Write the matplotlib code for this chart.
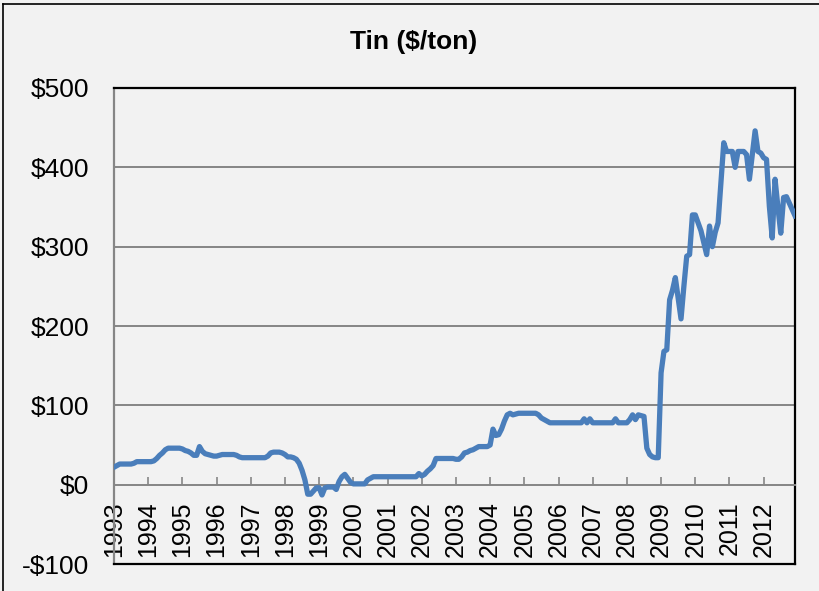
import matplotlib
matplotlib.use("Agg")
import matplotlib.pyplot as plt
from matplotlib.lines import Line2D
import numpy as np

plt.rcParams['font.family'] = ['Liberation Sans', 'DejaVu Sans']

# monthly tin price, Jan 1993 .. Dec 2012
prices = {
    1993: [22, 24, 26, 26, 26, 26, 26, 27, 29, 29, 29, 29],
    1994: [29, 29, 30, 33, 37, 40, 44, 46, 46, 46, 46, 46],
    1995: [45, 43, 42, 40, 37, 37, 48, 42, 39, 38, 37, 36],
    1996: [36, 37, 38, 38, 38, 38, 38, 37, 35, 34, 34, 34],
    1997: [34, 34, 34, 34, 34, 34, 36, 40, 41, 41, 41, 40],
    1998: [38, 35, 35, 34, 32, 27, 18, 6, -12, -12, -8, -4],
    1999: [-4, -13, -4, -3, -3, -3, -6, 4, 10, 13, 8, 3],
    2000: [1, 1, 1, 1, 1, 6, 8, 10, 10, 10, 10, 10],
    2001: [10, 10, 10, 10, 10, 10, 10, 10, 10, 10, 10, 14],
    2002: [11, 13, 17, 20, 24, 33, 33, 33, 33, 33, 33, 33],
    2003: [32, 32, 35, 40, 41, 43, 44, 46, 48, 48, 48, 48],
    2004: [50, 70, 62, 63, 70, 80, 88, 90, 88, 89, 90, 90],
    2005: [90, 90, 90, 90, 90, 88, 84, 82, 80, 78, 78, 78],
    2006: [78, 78, 78, 78, 78, 78, 78, 78, 78, 83, 78, 83],
    2007: [78, 78, 78, 78, 78, 78, 78, 78, 83, 78, 78, 78],
    2008: [78, 82, 88, 82, 88, 87, 86, 46, 38, 35, 34, 34],
    2009: [141, 168, 170, 233, 245, 261, 235, 209, 250, 288, 290, 340],
    2010: [340, 330, 320, 305, 290, 326, 300, 318, 330, 380, 431, 420],
    2011: [420, 420, 400, 420, 420, 420, 416, 385, 416, 446, 420, 418],
    2012: [412, 410, 351, 311, 385, 350, 317, 362, 363, 355, 347, 339],
}
years = list(prices.keys())
values = np.concatenate([prices[y] for y in years])
dates = years[0] + np.arange(len(values)) / 12.0

y_ticks = [-100, 0, 100, 200, 300, 400, 500]
y_labels = ['-$100', '$0', '$100', '$200', '$300', '$400', '$500']

bg = '#F2F2F2'
fig = plt.figure(figsize=(8.19, 5.91), dpi=100, facecolor=bg)
ax = fig.add_axes([114 / 819, 1 - 564 / 591, (795 - 114) / 819, (564 - 88) / 591])
ax.set_facecolor(bg)

# spine moves first: set_position resets the tick labels
ax.spines['bottom'].set_position(('data', 0))
ax.spines['bottom'].set_color('#868686')
ax.spines['bottom'].set_linewidth(1.4)
ax.spines['left'].set_color('#868686')
ax.spines['left'].set_linewidth(1.6)
for side in ['top', 'right']:
    ax.spines[side].set_color('black')
    ax.spines[side].set_linewidth(1.6)

ax.plot(dates, values, color='#4A7EBB', lw=3.8, solid_joinstyle='round', zorder=3)

ax.set_xlim(dates[0], dates[-1])
ax.set_ylim(-100, 500)

for v in y_ticks[2:-1]:
    ax.axhline(v, color='#868686', lw=1.4, zorder=1)
ax.axhline(-100, color='black', lw=1.6, clip_on=False, zorder=4)

ax.set_yticks(y_ticks)
ax.set_yticklabels(y_labels)
ax.tick_params(axis='y', length=0, pad=18, labelsize=19)

ax.set_xticks(years)
ax.set_xticklabels([str(y) for y in years])
ax.tick_params(axis='x', direction='in', length=5.5, width=1.2, color='#868686',
               pad=12, labelsize=18, labelrotation=90)

fig.text(414 / 819, 1 - 42 / 591, 'Tin ($/ton)', ha='center', va='center',
         fontsize=19, fontweight='bold')

# outer chart border (cut off on the right and bottom)
fig.add_artist(Line2D([3 / 819, 1], [1 - 4 / 591, 1 - 4 / 591], color='black', lw=1.2))
fig.add_artist(Line2D([3 / 819, 3 / 819], [1 - 4 / 591, 0], color='black', lw=1.2))

fig.savefig('out.png', dpi=100, facecolor=bg)
